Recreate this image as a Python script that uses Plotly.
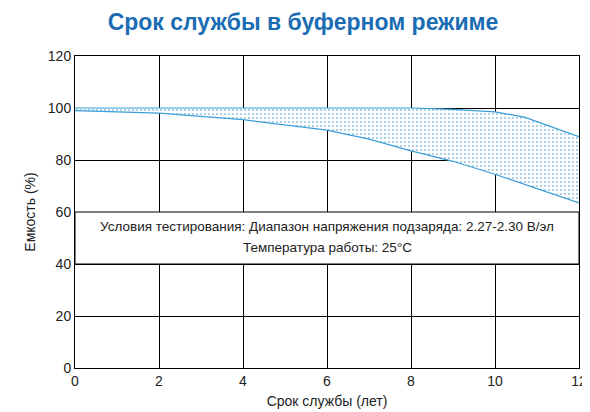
import plotly.graph_objects as go

years_upper = [0, 2, 4, 6, 8, 9, 10, 10.7, 11.5, 12]
cap_upper = [100, 100, 100, 100, 100, 99.5, 98.5, 96.5, 92, 89]
years_lower = [0, 2, 4, 6, 7, 8, 9, 10, 11, 12]
cap_lower = [99, 98, 95.5, 91.5, 88, 83.5, 79.5, 74.5, 69, 63.5]
x_ticks = [0, 2, 4, 6, 8, 10, 12]
y_ticks = [0, 20, 40, 60, 80, 100, 120]

line_c = "#3a9fd8"
fig = go.Figure()
fig.add_trace(go.Scatter(x=years_lower, y=cap_lower, mode="lines",
                         line=dict(color=line_c, width=1.2), showlegend=False))
fig.add_trace(go.Scatter(x=years_upper, y=cap_upper, mode="lines",
                         line=dict(color=line_c, width=1.2), showlegend=False,
                         fill="tonexty", fillcolor="rgba(255,255,255,0)",
                         fillpattern=dict(shape=".", fgcolor="#2a7fc0", bgcolor="white",
                                          size=4, solidity=0.2)))

fig.add_shape(type="rect", x0=0, x1=12, y0=40, y1=60, fillcolor="white",
              line=dict(color="black", width=1), layer="above")
fig.add_annotation(x=6, y=54.5, text="Условия тестирования: Диапазон напряжения подзаряда: 2.27-2.30 В/эл",
                   showarrow=False, font=dict(size=13.5, color="#222", family="Arial"))
fig.add_annotation(x=6, y=46.5, text="Температура работы: 25°C",
                   showarrow=False, font=dict(size=13.5, color="#222", family="Arial"))

axis_common = dict(showgrid=True, gridcolor="black", gridwidth=1, showline=True,
                   linecolor="black", mirror=True, zeroline=False, ticks="",
                   automargin=False,
                   tickfont=dict(size=14, color="#222", family="Arial"))
fig.update_xaxes(range=[0, 12], tickvals=x_ticks, title=dict(text="Срок службы (лет)",
                 font=dict(size=14, family="Arial", color="#222"), standoff=8), **axis_common)
fig.update_yaxes(range=[0, 120], tickvals=y_ticks, title=dict(text="Емкость (%)",
                 font=dict(size=14, family="Arial", color="#222"), standoff=8), **axis_common)

fig.update_layout(
    width=590, height=412,
    margin=dict(l=67, r=19, t=48, b=52),
    plot_bgcolor="white", paper_bgcolor="white",
    title=dict(text="<b>Срок службы в буферном режиме</b>", x=0.5, xanchor="center",
               y=0.985, yanchor="top",
               font=dict(size=23, color="#1a6db3", family="Arial")),
)
fig.write_html("out.html")
